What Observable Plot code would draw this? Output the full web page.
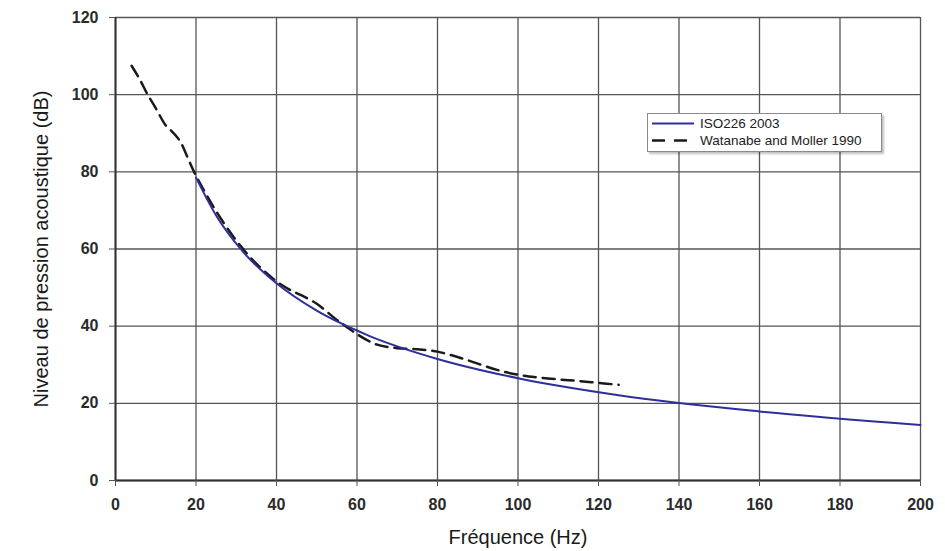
<!DOCTYPE html>
<html>
<head>
<meta charset="utf-8">
<script src="https://cdn.jsdelivr.net/npm/d3@7"></script>
<script src="https://cdn.jsdelivr.net/npm/@observablehq/plot@0.6"></script>
<style>
  html, body { margin: 0; padding: 0; background: #fff; }
  #wrap { position: relative; width: 945px; height: 551px; font-family: "Liberation Sans", Arial, sans-serif; }
  #legend { position: absolute; left: 647px; top: 113px; width: 233px; height: 37px; background: #fff;
            border: 1px solid #8a8a8a; box-shadow: 2px 2px 2px rgba(0,0,0,0.25); font-size: 13.5px; color: #222; }
  .row { position: absolute; left: 4px; display: flex; align-items: center; }
  .row svg { margin-right: 6px; }
</style>
</head>
<body>
<div id="wrap"></div>
<script>
// ISO 226:2003 threshold of hearing
const isoFreq = [20, 25, 31.5, 40, 50, 63, 80, 100, 125, 160, 200];
const isoLevel = [78.5, 68.7, 59.5, 51.1, 44.0, 37.5, 31.5, 26.5, 22.1, 17.9, 14.4];
// Watanabe and Moller 1990
const wmFreq = [4, 6, 8, 10, 12.5, 14, 16, 18, 20, 25, 30, 35, 40, 43, 46, 50, 55, 58, 60, 65, 70, 75, 80, 85, 90, 95, 100, 105, 110, 115, 120, 125];
const wmLevel = [107.5, 104, 100, 96.5, 92, 90.5, 88, 83.5, 79, 69.8, 62.2, 56.2, 51.6, 49.6, 48.1, 45.8, 41.6, 39.4, 37.9, 35.2, 34.3, 34.0, 33.4, 32.0, 30.3, 28.6, 27.4, 26.7, 26.2, 25.8, 25.3, 24.8];
const xTicks = [0, 20, 40, 60, 80, 100, 120, 140, 160, 180, 200];
const yTicks = [0, 20, 40, 60, 80, 100, 120];
const seriesNames = ["ISO226 2003", "Watanabe and Moller 1990"];

const iso = isoFreq.map((f, i) => ({f, v: isoLevel[i]}));
const wm = wmFreq.map((f, i) => ({f, v: wmLevel[i]}));

const chart = Plot.plot({
  width: 945,
  height: 551,
  marginLeft: 115,
  marginRight: 25,
  marginTop: 17,
  marginBottom: 71,
  style: {fontFamily: "Liberation Sans, Arial, sans-serif", background: "#fff"},
  x: {domain: [0, 200]},
  y: {domain: [0, 120]},
  marks: [
    Plot.gridX(xTicks, {stroke: "#555", strokeOpacity: 1, strokeWidth: 1.3}),
    Plot.gridY(yTicks, {stroke: "#555", strokeOpacity: 1, strokeWidth: 1.3}),
    Plot.ruleX([0], {stroke: "#333", strokeWidth: 2}),
    Plot.ruleY([0], {stroke: "#333", strokeWidth: 2}),
    Plot.axisX(xTicks, {tickSize: 6, tickPadding: 12, fontSize: 16, fontWeight: "bold", fill: "#2a2a2a", stroke: "#555",
      label: null}),
    Plot.axisY(yTicks, {tickSize: 6, tickPadding: 11, fontSize: 16, fontWeight: "bold", fill: "#2a2a2a", stroke: "#555",
      label: null}),
    Plot.axisX({ticks: [], label: "Fréquence (Hz)", labelAnchor: "center", labelArrow: "none", labelOffset: 63, fontSize: 20, fill: "#1a1a1a"}),
    Plot.axisY({ticks: [], label: "Niveau de pression acoustique (dB)", labelAnchor: "center", labelArrow: "none", labelOffset: 82, fontSize: 20, fill: "#1a1a1a"}),
    Plot.line(wm, {x: "f", y: "v", stroke: "#1a1a1a", strokeWidth: 2.5, strokeDasharray: "12,7", curve: "catmull-rom"}),
    Plot.line(iso, {x: "f", y: "v", stroke: "#2e2e9c", strokeWidth: 2, curve: "monotone-x"})
  ]
});
const wrap = document.getElementById("wrap");
wrap.appendChild(chart);

const legend = document.createElement("div");
legend.id = "legend";
legend.innerHTML = `
  <div class="row" style="top:2px"><svg width="42" height="15"><line x1="0" y1="7.5" x2="42" y2="7.5" stroke="#2e2e9c" stroke-width="2"/></svg><span>${seriesNames[0]}</span></div>
  <div class="row" style="top:19px"><svg width="42" height="15"><line x1="0" y1="7.5" x2="42" y2="7.5" stroke="#1a1a1a" stroke-width="2.5" stroke-dasharray="13,9"/></svg><span>${seriesNames[1]}</span></div>`;
wrap.appendChild(legend);
</script>
</body>
</html>
